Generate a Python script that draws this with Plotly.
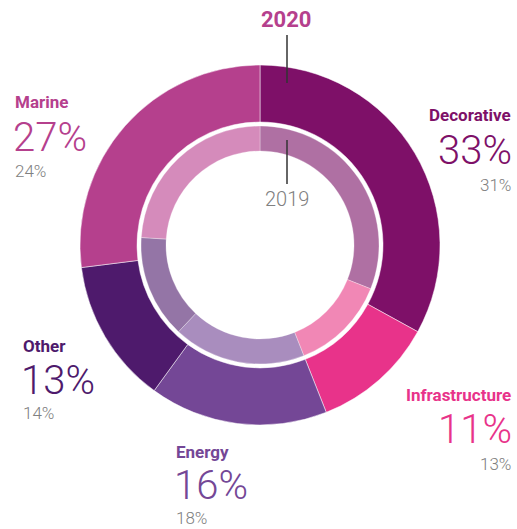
import plotly.graph_objects as go

categories = ["Decorative", "Infrastructure", "Energy", "Other", "Marine"]
values_2020 = [33, 11, 16, 13, 27]
values_2019 = [31, 13, 18, 14, 24]
colors_2020 = ["#7E1068", "#E8338A", "#744796", "#4E1A6C", "#B5408D"]
colors_2019 = ["#AF70A3", "#F187B5", "#A98DBE", "#9475A6", "#D58BBB"]

W, H = 517, 529
cx, cy = 260, 245
R_out, R_out_in = 180, 123
R_in, R_in_in = 119, 94


def dom(r):
    return dict(x=[(cx - r) / W, (cx + r) / W],
                y=[(H - cy - r) / H, (H - cy + r) / H])


fig = go.Figure()
fig.add_trace(go.Pie(labels=categories, values=values_2020, sort=False,
                     direction="clockwise", rotation=0, hole=R_out_in / R_out,
                     marker=dict(colors=colors_2020, line=dict(color="white", width=0.5)),
                     textinfo="none", hoverinfo="label+percent", domain=dom(R_out),
                     showlegend=False))
fig.add_trace(go.Pie(labels=categories, values=values_2019, sort=False,
                     direction="clockwise", rotation=0, hole=R_in_in / R_in,
                     marker=dict(colors=colors_2019, line=dict(color="white", width=0.3)),
                     textinfo="none", hoverinfo="label+percent", domain=dom(R_in),
                     showlegend=False))

FONT = "Roboto"
GRAY = "#808080"

# label layout: (category, x, anchor, y_name, y_big, y_small)
label_pos = {
    "Decorative": (513, "right", 115, 150, 185),
    "Infrastructure": (513, "right", 395, 429, 464),
    "Energy": (174, "left", 452, 485, 518),
    "Other": (21, "left", 346, 380, 413),
    "Marine": (13, "left", 102, 137, 171),
}

ann = []
for cat, v20, v19, col in zip(categories, values_2020, values_2019, colors_2020):
    x, anc, yn, yb, ys = label_pos[cat]
    ann.append(dict(x=x / W, y=1 - yn / H, xref="paper", yref="paper", text=f"<b>{cat}</b>",
                    showarrow=False, xanchor=anc, yanchor="middle",
                    font=dict(family=FONT, size=17, color=col)))
    ann.append(dict(x=(x + (1 if anc == "right" else -2)) / W, y=1 - yb / H, xref="paper", yref="paper",
                    text=f"{v20}%", showarrow=False, xanchor=anc, yanchor="middle",
                    font=dict(family=FONT, size=40, color=col, weight=300)))
    ann.append(dict(x=x / W, y=1 - ys / H, xref="paper", yref="paper", text=f"{v19}%",
                    showarrow=False, xanchor=anc, yanchor="middle",
                    font=dict(family=FONT, size=17, color=GRAY, weight=300)))

ann.append(dict(x=286 / W, y=1 - 19 / H, xref="paper", yref="paper", text="<b>2020</b>",
                showarrow=False, xanchor="center", yanchor="middle",
                font=dict(family=FONT, size=22, color="#B5408D")))
ann.append(dict(x=287 / W, y=1 - 199 / H, xref="paper", yref="paper", text="2019",
                showarrow=False, xanchor="center", yanchor="middle",
                font=dict(family=FONT, size=20, color=GRAY, weight=300)))

shapes = [
    dict(type="line", xref="paper", yref="paper", x0=287 / W, x1=287 / W,
         y0=1 - 35 / H, y1=1 - 83 / H, line=dict(color="#333333", width=1.5)),
    dict(type="line", xref="paper", yref="paper", x0=287 / W, x1=287 / W,
         y0=1 - 140 / H, y1=1 - 184 / H, line=dict(color="#333333", width=1.5)),
]

fig.update_layout(width=W, height=H, margin=dict(l=0, r=0, t=0, b=0),
                  paper_bgcolor="white", plot_bgcolor="white",
                  annotations=ann, shapes=shapes)
fig.write_html("out.html", config={"displayModeBar": False},
               post_script="document.body.style.margin='0';document.body.style.overflow='hidden';")
